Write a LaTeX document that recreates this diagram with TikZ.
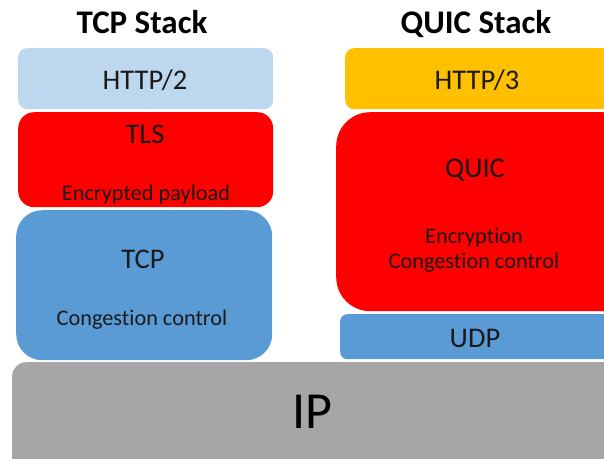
\documentclass[tikz,border=0pt]{standalone}
\usepackage{fontspec}
\setmainfont{Carlito}[Ligatures=NoCommon]
\usepackage{xcolor}

\definecolor{httpblue}{HTML}{BDD7EE}
\definecolor{httporange}{HTML}{FFC000}
\definecolor{layerblue}{HTML}{5B9BD5}
\definecolor{layergray}{HTML}{A6A6A6}
\definecolor{labeltext}{HTML}{1A1A1A}

\tikzset{
  layer/.style={anchor=north west, inner sep=0pt, draw=none},
  stackhead/.style={anchor=base, font=\fontsize{33}{38}\selectfont\bfseries},
  layername/.style={anchor=base, text=labeltext, font=\fontsize{28.5}{33}\selectfont},
  layernote/.style={anchor=base, text=labeltext, font=\fontsize{22.3}{26}\selectfont},
}

\begin{document}
\begin{tikzpicture}[x=1pt, y=-1pt]
  \useasboundingbox (0,0) rectangle (604,458);
  \clip (0,0) rectangle (604,458);

  \node[stackhead] (tcpstack) at (142,33) {TCP Stack};
  \node[stackhead] (quicstack) at (476,33) {QUIC Stack};

  \node[layer, fill=httpblue, rounded corners=9pt, minimum width=255pt, minimum height=61pt] (http2) at (18,48) {};
  \node[layer, fill=red, rounded corners=16pt, minimum width=255pt, minimum height=95pt] (tls) at (18,112) {};
  \node[layer, fill=layerblue, rounded corners=26pt, minimum width=256pt, minimum height=150pt] (tcp) at (16,210) {};

  \node[layer, fill=httporange, rounded corners=9pt, minimum width=290pt, minimum height=61pt] (http3) at (345,48) {};
  \node[layer, fill=red, rounded corners=34pt, minimum width=300pt, minimum height=199pt] (quic) at (336,112) {};
  \node[layer, fill=layerblue, rounded corners=7pt, minimum width=300pt, minimum height=45pt] (udp) at (340,314) {};

  \node[layer, fill=layergray, rounded corners=14pt, minimum width=640pt, minimum height=130pt] (ip) at (12,362) {};

  \node[layername] (http2lbl) at (145,89) {HTTP/2};
  \node[layername] (tlslbl) at (145,143) {TLS};
  \node[layernote] (tlsnote) at (146,200) {Encrypted payload};
  \node[layername] (tcplbl) at (143,268) {TCP};
  \node[layernote] (tcpnote) at (142,325) {Congestion control};

  \node[layername] (http3lbl) at (477,89) {HTTP/3};
  \node[layername] (quiclbl) at (475,177) {QUIC};
  \node[layernote] (quicnote) at (474,243) {Encryption};
  \node[layernote] (quicnote2) at (474,268) {Congestion control};
  \node[layername] (udplbl) at (475,347) {UDP};

  \node[anchor=base, text=black, font=\fontsize{52}{60}\selectfont] (iplbl) at (312,428) {IP};
\end{tikzpicture}
\end{document}
